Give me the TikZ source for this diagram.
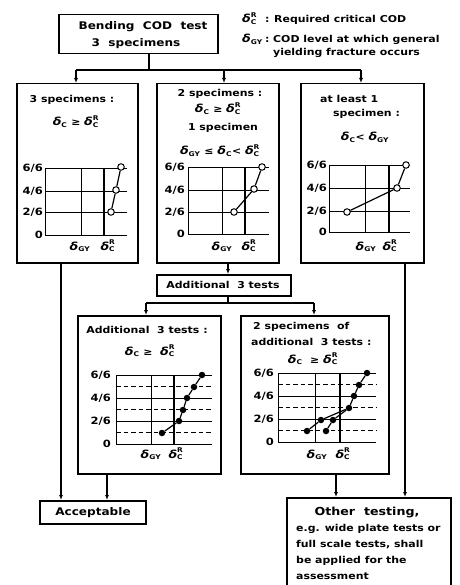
\documentclass[tikz,border=0pt]{standalone}
\usepackage{fontspec}
\setmainfont{DejaVu Sans}[FakeStretch=1.15]
\usetikzlibrary{arrows.meta}
\newcommand{\subf}{\fontsize{6.5}{6.5}\selectfont}
\newcommand{\dlt}{\mbox{\fontsize{11}{11}\selectfont\itshape δ}}
\newcommand{\dc}{$\dlt_{\mbox{\subf C}}$}
\newcommand{\dcr}{$\dlt^{\mbox{\subf R}}_{\mbox{\subf C}}$}
\newcommand{\dgy}{$\dlt_{\mbox{\subf GY}}$}
\begin{document}
\begin{tikzpicture}[x=1pt,y=-1pt,
  box/.style={draw,line width=1.5pt,inner sep=0pt,anchor=north west},
  con/.style={line width=1.1pt},
  arr/.style={con,-{Latex[length=5pt,width=4pt]}},
  grd/.style={line width=0.9pt},
  dsh/.style={line width=0.9pt,dash pattern=on 4.5pt off 3pt},
  rline/.style={line width=2pt},
  pl/.style={line width=1.2pt},
  opn/.style={circle,draw,fill=white,inner sep=0pt,minimum size=6.5pt,line width=1pt},
  fil/.style={circle,fill=black,inner sep=0pt,minimum size=6.5pt},
  txt/.style={inner sep=0pt,anchor=base,font=\fontsize{9.5}{11}\selectfont\bfseries},
  txtl/.style={txt,anchor=base west},
  big/.style={inner sep=0pt,anchor=base,font=\fontsize{10.5}{12}\selectfont\bfseries},
  mid/.style={inner sep=0pt,anchor=base west,font=\fontsize{9.5}{11}\selectfont\bfseries},
  tick/.style={inner sep=0pt,anchor=east,font=\fontsize{10}{11}\selectfont\bfseries},
  lbl/.style={inner sep=0pt,anchor=base,font=\fontsize{9.5}{11}\selectfont\bfseries}
]
\useasboundingbox (0,0) rectangle (459,585);

% ---------- boxes ----------
\node[box,minimum width=159pt,minimum height=39pt] (top) at (58,14) {};
\node[box,minimum width=121pt,minimum height=179pt] (b1) at (16,83) {};
\node[box,minimum width=122pt,minimum height=179pt] (b2) at (156,83) {};
\node[box,minimum width=123pt,minimum height=179pt] (b3) at (300,83) {};
\node[box,minimum width=134pt,minimum height=21pt] (add) at (156,274) {};
\node[box,minimum width=143pt,minimum height=158pt] (b4) at (77,315) {};
\node[box,minimum width=148pt,minimum height=158pt] (b5) at (240,315) {};
\node[box,minimum width=106pt,minimum height=23pt] (acc) at (39,500) {};
\node[box,minimum width=164pt,minimum height=100pt] (oth) at (286,497) {};

% ---------- texts ----------
\node[big] (t1) at (143,30) {Bending~ COD~ test};
\node[big] (t2) at (136,47) {3~ specimens};

\node[mid] (lg1) at (242,23) {\dcr};
\node[mid] (lg1c) at (265,23) {:};
\node[mid] (lg1t) at (274,23) {Required critical COD};
\node[mid] (lg2) at (242,43) {\dgy};
\node[mid] (lg2c) at (265,43) {:};
\node[mid] (lg2t) at (273,43) {COD level at which general};
\node[mid] (lg3t) at (273,56) {yielding fracture occurs};

\node[txt] (s1a) at (72,103) {3 specimens :};
\node[txt] (s1b) at (76,126) {\dc{}~≥~\dcr};

\node[txt] (s2a) at (220,97) {2 specimens :};
\node[txt] (s2b) at (218,113) {\dc{}~≥~\dcr};
\node[txt] (s2c) at (223,131) {1 specimen};
\node[txt] (s2d) at (220,155) {\dgy{}~≤~\dc{}<~\dcr};

\node[txtl] (s3a) at (320,103) {at least 1};
\node[txtl] (s3b) at (333,117) {specimen :};
\node[txt] (s3c) at (365,141) {\dc{}<~\dgy};

\node[mid,anchor=base] (ta) at (223,288) {Additional~ 3 tests};

\node[txt] (s4a) at (147,333) {Additional~ 3 tests :};
\node[txt] (s4b) at (150,355) {\dc{}~≥~ \dcr};

\node[txtl] (s5a) at (253,329) {2 specimens~ of};
\node[txtl] (s5b) at (251,345) {additional~ 3 tests :};
\node[txt] (s5c) at (313,363) {\dc{}~ ≥~\dcr};

\node[big] (tacc) at (93,515) {Acceptable};
\node[big,font=\fontsize{11}{12}\selectfont\bfseries] (to1) at (367,515) {Other~ testing,};
\node[mid] (to2) at (296,531) {e.g. wide plate tests or};
\node[mid] (to3) at (296,547) {full scale tests, shall};
\node[mid] (to4) at (296,563) {be applied for the};
\node[mid] (to5) at (296,579) {assessment};

% ---------- connectors ----------
\coordinate (j1) at (149,70);
\coordinate (j1a) at (76,70);
\coordinate (j1b) at (224,70);
\coordinate (j1c) at (361,70);
\draw[con] (top.south -| j1) -- (j1);
\draw[con] (j1a) -- (j1c);
\draw[arr] (j1a) -- (j1a |- b1.north);
\draw[arr] (j1b) -- (j1b |- b2.north);
\draw[arr] (j1c) -- (j1c |- b3.north);

\coordinate (x228) at (228,0);
\draw[arr] (b2.south -| x228) -- (add.north -| x228);
\coordinate (j2) at (228,303);
\coordinate (j2a) at (146,303);
\coordinate (j2b) at (314,303);
\draw[con] (add.south -| j2) -- (j2);
\draw[con] (j2a) -- (j2b);
\draw[arr] (j2a) -- (j2a |- b4.north);
\draw[arr] (j2b) -- (j2b |- b5.north);

\coordinate (xl) at (61,0);
\coordinate (xl2) at (107,0);
\draw[arr] (b1.south -| xl) -- (acc.north -| xl);
\draw[arr] (b4.south -| xl2) -- (acc.north -| xl2);
\coordinate (xr) at (405,0);
\coordinate (xr2) at (336,0);
\draw[arr] (b3.south -| xr) -- (oth.north -| xr);
\draw[arr] (b5.south -| xr2) -- (oth.north -| xr2);

% ---------- chart A ----------
\draw[grd] (45,168) -- (127,168) (45,191) -- (127,191) (45,212) -- (127,212)
  (45,235) -- (127,235) (45,168) -- (45,235) (81,168) -- (81,235);
\draw[rline] (104,168) -- (104,235);
\node[opn] (pA1) at (111,212) {};
\node[opn] (pA2) at (116,190) {};
\node[opn] (pA3) at (121,167) {};
\draw[pl] (pA1) -- (pA2) -- (pA3);
\node[tick] (tA6) at (43,168) {6/6};
\node[tick] (tA4) at (43,191) {4/6};
\node[tick] (tA2) at (43,212) {2/6};
\node[tick] (tA0) at (43,235) {0};
\node[lbl] (gA) at (80,250) {\dgy};
\node[lbl] (rA) at (108,250) {\dcr};

% ---------- chart B ----------
\draw[grd] (188,167) -- (269,167) (188,190) -- (269,190) (188,212) -- (269,212)
  (188,234) -- (269,234) (188,167) -- (188,234) (222,167) -- (222,234);
\draw[rline] (245,167) -- (245,234);
\node[opn] (pB1) at (234,212) {};
\node[opn] (pB2) at (254,189) {};
\node[opn] (pB3) at (262,167) {};
\draw[pl] (pB1) -- (pB2) -- (pB3);
\node[tick] (tB6) at (185,167) {6/6};
\node[tick] (tB4) at (185,190) {4/6};
\node[tick] (tB2) at (185,212) {2/6};
\node[tick] (tB0) at (185,234) {0};
\node[lbl] (gB) at (222,250) {\dgy};
\node[lbl] (rB) at (249,250) {\dcr};

% ---------- chart C ----------
\draw[grd] (329,165) -- (410,165) (329,188) -- (410,188) (329,211) -- (410,211)
  (329,232) -- (410,232) (329,165) -- (329,232) (365,165) -- (365,232);
\draw[rline] (389,165) -- (389,232);
\node[opn] (pC1) at (347,212) {};
\node[opn] (pC2) at (397,188) {};
\node[opn] (pC3) at (406,165) {};
\draw[pl] (pC1) -- (pC2) -- (pC3);
\node[tick] (tC6) at (327,165) {6/6};
\node[tick] (tC4) at (327,188) {4/6};
\node[tick] (tC2) at (327,211) {2/6};
\node[tick] (tC0) at (327,232) {0};
\node[lbl] (gC) at (366,250) {\dgy};
\node[lbl] (rC) at (390,250) {\dcr};

% ---------- chart D ----------
\draw[grd] (116,375) -- (212,375) (116,398) -- (212,398) (116,421) -- (212,421)
  (116,444) -- (212,444) (116,375) -- (116,444) (151,375) -- (151,444);
\draw[dsh] (116,386.5) -- (212,386.5) (116,409.5) -- (212,409.5) (116,432.5) -- (212,432.5);
\draw[rline] (174,375) -- (174,444);
\node[fil] (pD1) at (162,433) {};
\node[fil] (pD2) at (179,421) {};
\node[fil] (pD3) at (183,410) {};
\node[fil] (pD4) at (187,398) {};
\node[fil] (pD5) at (194,387) {};
\node[fil] (pD6) at (202,375) {};
\draw[pl] (pD1) -- (pD2) -- (pD3) -- (pD4) -- (pD5) -- (pD6);
\node[tick] (tD6) at (111,375) {6/6};
\node[tick] (tD4) at (111,398) {4/6};
\node[tick] (tD2) at (111,421) {2/6};
\node[tick] (tD0) at (111,444) {0};
\node[lbl] (gD) at (151,458) {\dgy};
\node[lbl] (rD) at (176,458) {\dcr};

% ---------- chart E ----------
\draw[grd] (278,373) -- (376,373) (278,396) -- (376,396) (278,419) -- (376,419)
  (278,442) -- (376,442) (278,373) -- (278,442) (315,373) -- (315,442);
\draw[dsh] (278,384.5) -- (376,384.5) (278,407.5) -- (376,407.5) (278,430.5) -- (376,430.5);
\draw[rline] (340,373) -- (340,442);
\node[fil] (pE1) at (307,431) {};
\node[fil] (pE2) at (321,420) {};
\node[fil] (pE3) at (326,431) {};
\node[fil] (pE4) at (333,420) {};
\node[fil] (pE5) at (349,408) {};
\node[fil] (pE6) at (354,396) {};
\node[fil] (pE7) at (359,385) {};
\node[fil] (pE8) at (367,373) {};
\draw[pl] (pE1) -- (pE2) -- (pE5) -- (pE6) -- (pE7) -- (pE8);
\draw[pl] (pE3) -- (pE4) -- (pE5);
\node[tick] (tE6) at (274,373) {6/6};
\node[tick] (tE4) at (274,396) {4/6};
\node[tick] (tE2) at (274,419) {2/6};
\node[tick] (tE0) at (274,442) {0};
\node[lbl] (gE) at (317,458) {\dgy};
\node[lbl] (rE) at (343,458) {\dcr};
\end{tikzpicture}
\end{document}
